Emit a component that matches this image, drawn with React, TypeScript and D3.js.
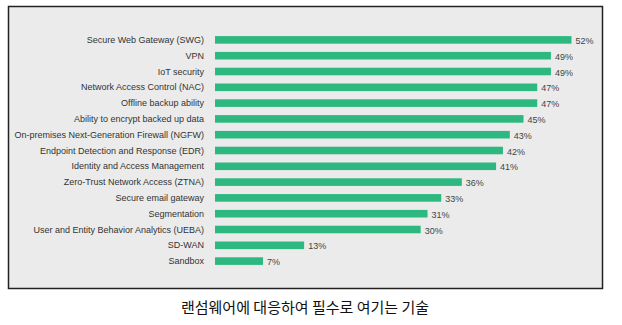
import React from "react";
import * as d3 from "d3";

const categories = [
  "Secure Web Gateway (SWG)",
  "VPN",
  "IoT security",
  "Network Access Control (NAC)",
  "Offline backup ability",
  "Ability to encrypt backed up data",
  "On-premises Next-Generation Firewall (NGFW)",
  "Endpoint Detection and Response (EDR)",
  "Identity and Access Management",
  "Zero-Trust Network Access (ZTNA)",
  "Secure email gateway",
  "Segmentation",
  "User and Entity Behavior Analytics (UEBA)",
  "SD-WAN",
  "Sandbox",
];
const values = [52, 49, 49, 47, 47, 45, 43, 42, 41, 36, 33, 31, 30, 13, 7];
const caption = "랜섬웨어에 대응하여 필수로 여기는 기술";

const W = 622;
const H = 325;

export default function App() {
  const y = d3.scaleBand<string>().domain(categories).range([32, 269]).paddingInner(0.52).paddingOuter(0.26);
  const x = d3.scaleLinear().domain([0, 52]).range([215, 571.5]);
  return (
    <svg width={W} height={H} style={{ position: "absolute", left: 0, top: 0, background: "#fff" }}>
      <rect x={8.5} y={6.5} width={594} height={282} fill="#ebebeb" stroke="#222" strokeWidth={1.5} />
      {categories.map((c, i) => (
        <g key={c}>
          <text
            x={204}
            y={(y(c) as number) + y.bandwidth() / 2}
            textAnchor="end"
            dominantBaseline="central"
            fontFamily="Liberation Sans, Arial, sans-serif"
            fontSize={9}
            fill="#333"
          >
            {c}
          </text>
          <rect x={x(0)} y={y(c)} width={x(values[i]) - x(0)} height={y.bandwidth()} fill="#2db880" />
          <text
            x={x(values[i]) + 4}
            y={(y(c) as number) + y.bandwidth() / 2 + 1}
            dominantBaseline="central"
            fontFamily="Liberation Sans, Arial, sans-serif"
            fontSize={9}
            fill="#444"
          >
            {values[i] + "%"}
          </text>
        </g>
      ))}
      <text
        x={305}
        y={313}
        textAnchor="middle"
        fontFamily="Noto Sans CJK KR, sans-serif"
        fontSize={15}
        fill="#111"
      >
        {caption}
      </text>
    </svg>
  );
}
